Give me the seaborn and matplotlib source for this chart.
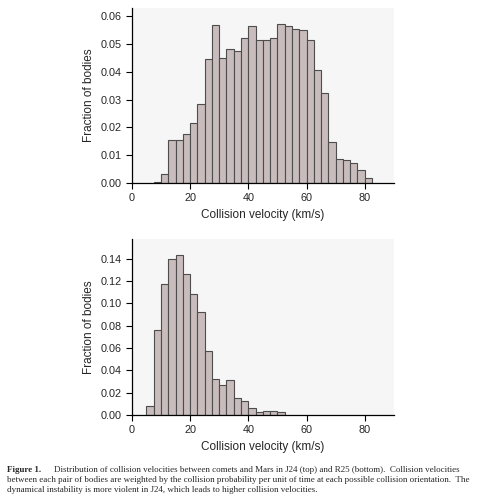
import numpy as np
import pandas as pd
import matplotlib
matplotlib.use("Agg")
import matplotlib.pyplot as plt
import seaborn as sns

# bin edges (km/s), 2.5 km/s wide
bins_j24 = np.arange(7.5, 82.5 + 0.1, 2.5)
bins_r25 = np.arange(5.0, 52.5 + 0.1, 2.5)

# J24 (top) fractions, one per bin
frac_j24 = [0.0003, 0.0032, 0.0155, 0.0156, 0.0175, 0.0214, 0.0285, 0.0446,
            0.0568, 0.0448, 0.0482, 0.0473, 0.0521, 0.0565, 0.0515, 0.0514,
            0.0521, 0.0570, 0.0564, 0.0554, 0.0549, 0.0515, 0.0406, 0.0323,
            0.0149, 0.0088, 0.0081, 0.0071, 0.0045, 0.0019]

# R25 (bottom) fractions
frac_r25 = [0.0083, 0.0759, 0.1177, 0.1394, 0.1433, 0.1260, 0.1080, 0.0920,
            0.0572, 0.0325, 0.0268, 0.0313, 0.0152, 0.0125, 0.0060, 0.0030,
            0.0037, 0.0037, 0.0030]

xticks = [0, 20, 40, 60, 80]
yticks_j24 = [0.00, 0.01, 0.02, 0.03, 0.04, 0.05, 0.06]
yticks_r25 = [0.00, 0.02, 0.04, 0.06, 0.08, 0.10, 0.12, 0.14]

caption = [
    "Distribution of collision velocities between comets and Mars in J24 (top) and R25 (bottom).  Collision velocities",
    "between each pair of bodies are weighted by the collision probability per unit of time at each possible collision orientation.  The",
    "dynamical instability is more violent in J24, which leads to higher collision velocities.",
]

sns.set_style("ticks")
plt.rcParams["font.family"] = ["Liberation Sans", "DejaVu Sans"]

fig = plt.figure(figsize=(4.85, 5.0), dpi=100)
ax1 = fig.add_axes([0.272, 0.634, 0.54, 0.35])
ax2 = fig.add_axes([0.272, 0.170, 0.54, 0.352])

panels = [(ax1, bins_j24, frac_j24, yticks_j24, 0.0629),
          (ax2, bins_r25, frac_r25, yticks_r25, 0.1576)]

for ax, edges, frac, yt, ytop in panels:
    centers = (edges[:-1] + edges[1:]) / 2
    df = pd.DataFrame({"v": centers, "f": frac})
    sns.histplot(data=df, x="v", weights="f", bins=list(edges), ax=ax,
                 color="#c8bdbc", edgecolor="#4d4d4d", linewidth=0.8, alpha=1)
    ax.set_facecolor("#f6f6f6")
    ax.set_xlim(0, 90)
    ax.set_ylim(0, ytop)
    ax.set_xticks(xticks)
    ax.set_yticks(yt)
    ax.set_yticklabels(["%.2f" % t for t in yt])
    ax.tick_params(labelsize=7.8, length=4, width=0.8, color="black")
    ax.set_xlabel("Collision velocity (km/s)", fontsize=8.5)
    ax.set_ylabel("Fraction of bodies", fontsize=8.5)
    for s in ["top", "right"]:
        ax.spines[s].set_visible(False)
    for s in ["left", "bottom"]:
        ax.spines[s].set_color("black")
        ax.spines[s].set_linewidth(0.9)

# caption below the panels
serif = ["Liberation Serif", "DejaVu Serif"]
fig.text(0.015, 0.057, "Figure 1.", fontsize=6.5, fontweight="bold", family=serif)
fig.text(0.111, 0.057, caption[0], fontsize=6.5, family=serif)
fig.text(0.015, 0.036, caption[1], fontsize=6.5, family=serif)
fig.text(0.015, 0.015, caption[2], fontsize=6.5, family=serif)

fig.savefig("out.png", dpi=100)
